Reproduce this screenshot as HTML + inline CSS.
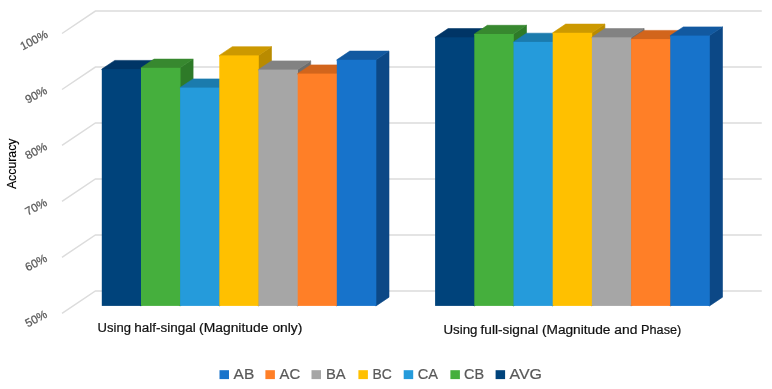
<!DOCTYPE html>
<html><head><meta charset="utf-8"><title>Accuracy chart</title>
<style>html,body{margin:0;padding:0;background:#fff}svg{display:block}</style></head>
<body>
<svg width="772" height="389" viewBox="0 0 772 389">
<rect width="772" height="389" fill="#fff"/>
<g fill="none" stroke="#dcdcdc" stroke-width="1.5">
<polyline points="62.0,33.5 95.4,11.1 761.8,11.1"/>
<polyline points="62.0,89.5 95.4,67.1 761.8,67.1"/>
<polyline points="62.0,145.4 95.4,123.0 761.8,123.0"/>
<polyline points="62.0,201.4 95.4,179.0 761.8,179.0"/>
<polyline points="62.0,257.3 95.4,234.9 761.8,234.9"/>
<polyline points="62.0,313.3 95.4,290.9 761.8,290.9"/>
</g>
<polygon fill="#002C55" stroke="#002C55" stroke-width="0.6" stroke-linejoin="round" points="140.0,70.1 141.0,69.1 154.0,60.4 154.0,297.2 141.0,305.9 140.0,305.4"/>
<polygon fill="#003566" stroke="#003566" stroke-width="0.6" stroke-linejoin="round" points="102.1,70.1 101.8,69.1 114.8,60.4 154.0,60.4 141.0,69.1 141.0,70.1"/>
<rect fill="#00437B" x="101.8" y="69.1" width="39.5" height="236.8"/>
<polygon fill="#2E7A28" stroke="#2E7A28" stroke-width="0.6" stroke-linejoin="round" points="179.1,68.8 180.1,67.8 193.1,59.1 193.1,297.2 180.1,305.9 179.1,305.4"/>
<polygon fill="#37882F" stroke="#37882F" stroke-width="0.6" stroke-linejoin="round" points="141.3,68.8 141.0,67.8 154.0,59.1 193.1,59.1 180.1,67.8 180.1,68.8"/>
<rect fill="#45AF3D" x="141.0" y="67.8" width="39.5" height="238.1"/>
<polygon fill="#176A96" stroke="#176A96" stroke-width="0.6" stroke-linejoin="round" points="218.3,88.6 219.3,87.6 232.3,78.9 232.3,297.2 219.3,305.9 218.3,305.4"/>
<polygon fill="#1B7BAD" stroke="#1B7BAD" stroke-width="0.6" stroke-linejoin="round" points="180.4,88.6 180.1,87.6 193.1,78.9 232.3,78.9 219.3,87.6 219.3,88.6"/>
<rect fill="#259BDB" x="180.1" y="87.6" width="39.5" height="218.3"/>
<polygon fill="#B98B00" stroke="#B98B00" stroke-width="0.6" stroke-linejoin="round" points="257.5,56.4 258.5,55.4 271.5,46.7 271.5,297.2 258.5,305.9 257.5,305.4"/>
<polygon fill="#CC9900" stroke="#CC9900" stroke-width="0.6" stroke-linejoin="round" points="219.6,56.4 219.3,55.4 232.3,46.7 271.5,46.7 258.5,55.4 258.5,56.4"/>
<rect fill="#FFC000" x="219.3" y="55.4" width="39.5" height="250.5"/>
<polygon fill="#6E6E6E" stroke="#6E6E6E" stroke-width="0.6" stroke-linejoin="round" points="296.7,70.6 297.7,69.6 310.7,60.9 310.7,297.2 297.7,305.9 296.7,305.4"/>
<polygon fill="#828282" stroke="#828282" stroke-width="0.6" stroke-linejoin="round" points="258.8,70.6 258.5,69.6 271.5,60.9 310.7,60.9 297.7,69.6 297.7,70.6"/>
<rect fill="#A6A6A6" x="258.5" y="69.6" width="39.5" height="236.3"/>
<polygon fill="#B3551A" stroke="#B3551A" stroke-width="0.6" stroke-linejoin="round" points="335.8,74.6 336.8,73.6 349.8,64.9 349.8,297.2 336.8,305.9 335.8,305.4"/>
<polygon fill="#D2651C" stroke="#D2651C" stroke-width="0.6" stroke-linejoin="round" points="298.0,74.6 297.7,73.6 310.7,64.9 349.8,64.9 336.8,73.6 336.8,74.6"/>
<rect fill="#FF7F27" x="297.7" y="73.6" width="39.5" height="232.3"/>
<polygon fill="#0C4886" stroke="#0C4886" stroke-width="0.6" stroke-linejoin="round" points="375.0,60.8 376.0,59.8 389.0,51.1 389.0,297.2 376.0,305.9 375.0,305.4"/>
<polygon fill="#1259A0" stroke="#1259A0" stroke-width="0.6" stroke-linejoin="round" points="337.1,60.8 336.8,59.8 349.8,51.1 389.0,51.1 376.0,59.8 376.0,60.8"/>
<rect fill="#1773CB" x="336.8" y="59.8" width="39.5" height="246.1"/>
<polygon fill="#002C55" stroke="#002C55" stroke-width="0.6" stroke-linejoin="round" points="473.3,38.3 474.3,37.3 487.3,28.6 487.3,297.2 474.3,305.9 473.3,305.4"/>
<polygon fill="#003566" stroke="#003566" stroke-width="0.6" stroke-linejoin="round" points="435.4,38.3 435.1,37.3 448.1,28.6 487.3,28.6 474.3,37.3 474.3,38.3"/>
<rect fill="#00437B" x="435.1" y="37.3" width="39.5" height="268.6"/>
<polygon fill="#2E7A28" stroke="#2E7A28" stroke-width="0.6" stroke-linejoin="round" points="512.5,35.0 513.5,34.0 526.5,25.3 526.5,297.2 513.5,305.9 512.5,305.4"/>
<polygon fill="#37882F" stroke="#37882F" stroke-width="0.6" stroke-linejoin="round" points="474.6,35.0 474.3,34.0 487.3,25.3 526.5,25.3 513.5,34.0 513.5,35.0"/>
<rect fill="#45AF3D" x="474.3" y="34.0" width="39.5" height="271.9"/>
<polygon fill="#176A96" stroke="#176A96" stroke-width="0.6" stroke-linejoin="round" points="551.7,42.9 552.7,41.9 565.7,33.2 565.7,297.2 552.7,305.9 551.7,305.4"/>
<polygon fill="#1B7BAD" stroke="#1B7BAD" stroke-width="0.6" stroke-linejoin="round" points="513.8,42.9 513.5,41.9 526.5,33.2 565.7,33.2 552.7,41.9 552.7,42.9"/>
<rect fill="#259BDB" x="513.5" y="41.9" width="39.5" height="264.0"/>
<polygon fill="#B98B00" stroke="#B98B00" stroke-width="0.6" stroke-linejoin="round" points="590.9,33.8 591.9,32.8 604.9,24.1 604.9,297.2 591.9,305.9 590.9,305.4"/>
<polygon fill="#CC9900" stroke="#CC9900" stroke-width="0.6" stroke-linejoin="round" points="553.0,33.8 552.7,32.8 565.7,24.1 604.9,24.1 591.9,32.8 591.9,33.8"/>
<rect fill="#FFC000" x="552.7" y="32.8" width="39.5" height="273.1"/>
<polygon fill="#6E6E6E" stroke="#6E6E6E" stroke-width="0.6" stroke-linejoin="round" points="630.1,38.3 631.1,37.3 644.1,28.6 644.1,297.2 631.1,305.9 630.1,305.4"/>
<polygon fill="#828282" stroke="#828282" stroke-width="0.6" stroke-linejoin="round" points="592.2,38.3 591.9,37.3 604.9,28.6 644.1,28.6 631.1,37.3 631.1,38.3"/>
<rect fill="#A6A6A6" x="591.9" y="37.3" width="39.5" height="268.6"/>
<polygon fill="#B3551A" stroke="#B3551A" stroke-width="0.6" stroke-linejoin="round" points="669.3,40.1 670.3,39.1 683.3,30.4 683.3,297.2 670.3,305.9 669.3,305.4"/>
<polygon fill="#D2651C" stroke="#D2651C" stroke-width="0.6" stroke-linejoin="round" points="631.4,40.1 631.1,39.1 644.1,30.4 683.3,30.4 670.3,39.1 670.3,40.1"/>
<rect fill="#FF7F27" x="631.1" y="39.1" width="39.5" height="266.8"/>
<polygon fill="#0C4886" stroke="#0C4886" stroke-width="0.6" stroke-linejoin="round" points="708.5,36.6 709.5,35.6 722.5,26.9 722.5,297.2 709.5,305.9 708.5,305.4"/>
<polygon fill="#1259A0" stroke="#1259A0" stroke-width="0.6" stroke-linejoin="round" points="670.6,36.6 670.3,35.6 683.3,26.9 722.5,26.9 709.5,35.6 709.5,36.6"/>
<rect fill="#1773CB" x="670.3" y="35.6" width="39.5" height="270.3"/>
<g font-family="'Liberation Sans', sans-serif" font-size="11.5" fill="#595959" stroke="#595959" stroke-width="0.25" text-anchor="end">
<text transform="translate(48.8,36.7) rotate(-28)">100%</text>
<text transform="translate(48.1,93.0) rotate(-28)">90%</text>
<text transform="translate(48.1,148.9) rotate(-28)">80%</text>
<text transform="translate(48.1,204.9) rotate(-28)">70%</text>
<text transform="translate(48.1,260.8) rotate(-28)">60%</text>
<text transform="translate(48.1,316.8) rotate(-28)">50%</text>
</g>
<text font-family="'Liberation Sans', sans-serif" font-size="12.3" fill="#000" stroke="#000" stroke-width="0.2" text-anchor="middle" transform="translate(15.9,163.8) rotate(-90)">Accuracy</text>
<g font-family="'Liberation Sans', sans-serif" font-size="12.5" fill="#111" stroke="#111" stroke-width="0.2">
<text y="332.2"><tspan x="97.6" textLength="33.3" lengthAdjust="spacingAndGlyphs">Using</tspan> <tspan x="134.3" textLength="61.5" lengthAdjust="spacingAndGlyphs">half-singal</tspan> <tspan x="199.1" textLength="69.3" lengthAdjust="spacingAndGlyphs">(Magnitude</tspan> <tspan x="272.4" textLength="30.0" lengthAdjust="spacingAndGlyphs">only)</tspan></text>
<text y="333.6"><tspan x="443.5" textLength="34.0" lengthAdjust="spacingAndGlyphs">Using</tspan> <tspan x="480.5" textLength="57.7" lengthAdjust="spacingAndGlyphs">full-signal</tspan> <tspan x="541.9" textLength="68.6" lengthAdjust="spacingAndGlyphs">(Magnitude</tspan> <tspan x="614.3" textLength="23.1" lengthAdjust="spacingAndGlyphs">and</tspan> <tspan x="641.1" textLength="40.2" lengthAdjust="spacingAndGlyphs">Phase)</tspan></text>
</g>
<g font-family="'Liberation Sans', sans-serif" font-size="14.5" fill="#595959" stroke="#595959" stroke-width="0.2">
<rect x="219.5" y="370.2" width="9.5" height="8.9" stroke="none" fill="#1773CB"/>
<text x="233.6" y="379.1" textLength="20.6" lengthAdjust="spacingAndGlyphs">AB</text>
<rect x="265.4" y="370.2" width="9.5" height="8.9" stroke="none" fill="#FF7F27"/>
<text x="279.5" y="379.1" textLength="20.6" lengthAdjust="spacingAndGlyphs">AC</text>
<rect x="311.5" y="370.2" width="9.5" height="8.9" stroke="none" fill="#A6A6A6"/>
<text x="326.0" y="379.1" textLength="19.7" lengthAdjust="spacingAndGlyphs">BA</text>
<rect x="358.4" y="370.2" width="9.5" height="8.9" stroke="none" fill="#FFC000"/>
<text x="372.5" y="379.1" textLength="19.3" lengthAdjust="spacingAndGlyphs">BC</text>
<rect x="403.7" y="370.2" width="9.5" height="8.9" stroke="none" fill="#259BDB"/>
<text x="417.8" y="379.1" textLength="20.3" lengthAdjust="spacingAndGlyphs">CA</text>
<rect x="450.4" y="370.2" width="9.5" height="8.9" stroke="none" fill="#45AF3D"/>
<text x="464.0" y="379.1" textLength="20.0" lengthAdjust="spacingAndGlyphs">CB</text>
<rect x="495.6" y="370.2" width="9.5" height="8.9" stroke="none" fill="#00437B"/>
<text x="509.6" y="379.1" textLength="32.4" lengthAdjust="spacingAndGlyphs">AVG</text>
</g>
</svg>
</body></html>
